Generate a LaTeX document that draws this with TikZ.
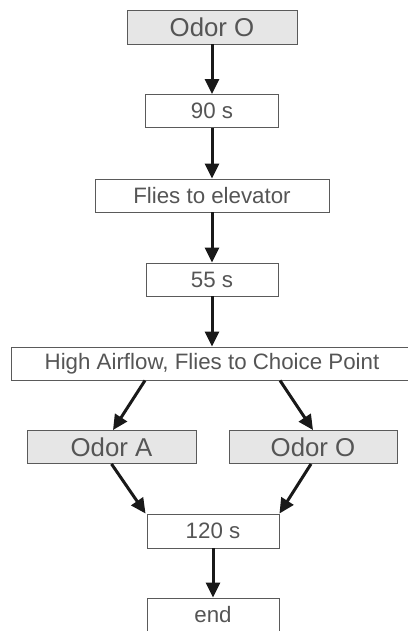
\documentclass[tikz,border=0pt]{standalone}
\usepackage{fontspec}
\setmainfont{Liberation Sans}
\usetikzlibrary{arrows.meta}
\definecolor{boxline}{HTML}{5A5A5A}
\definecolor{txt}{HTML}{555555}
\definecolor{odorfill}{HTML}{E6E6E6}
\begin{document}
\begin{tikzpicture}[x=1pt,y=1pt,
  stepbox/.style={draw=boxline, line width=0.9pt, fill=white, text=txt, inner sep=0pt,
    minimum height=33pt, font=\fontsize{22.3}{24}\selectfont},
  odorbox/.style={stepbox, fill=odorfill, font=\fontsize{25.8}{28}\selectfont},
  arr/.style={line width=3pt, -{Triangle[length=15pt,width=14pt]}, black!90}
]
\useasboundingbox (0,0) rectangle (407,-631);
\node[odorbox, minimum width=170pt, minimum height=34pt] (o0) at (212,-27) {Odor O};
\node[stepbox, minimum width=133pt] (n90) at (212,-111) {90 s};
\node[stepbox, minimum width=234pt] (fly) at (212,-195.5) {Flies to elevator};
\node[stepbox, minimum width=132pt] (n55) at (212,-279.5) {55 s};
\node[stepbox, minimum width=402pt] (hi) at (212,-363.5) {High Airflow, Flies to Choice Point};
\node[odorbox, minimum width=169pt] (oa) at (111.5,-447) {Odor A};
\node[odorbox, minimum width=168pt] (oo) at (313,-447) {Odor O};
\node[stepbox, minimum width=132pt, minimum height=34pt] (t120) at (213,-531) {120 s};
\node[stepbox, minimum width=132pt] (fin) at (213,-614.5) {end};
\draw[arr] (o0.south) -- (n90.north);
\draw[arr] (n90.south) -- (fly.north);
\draw[arr] (fly.south) -- (n55.north);
\draw[arr] (n55.south) -- (hi.north);
\draw[arr] ([xshift=-67pt]hi.south) -- ([xshift=1.5pt]oa.north);
\draw[arr] ([xshift=68pt]hi.south) -- (oo.north);
\draw[arr] (oa.south) -- ([xshift=-1pt]t120.north west);
\draw[arr] ([xshift=-2pt]oo.south) -- ([xshift=0pt]t120.north east);
\draw[arr] (t120.south) -- (fin.north);
\end{tikzpicture}
\end{document}
